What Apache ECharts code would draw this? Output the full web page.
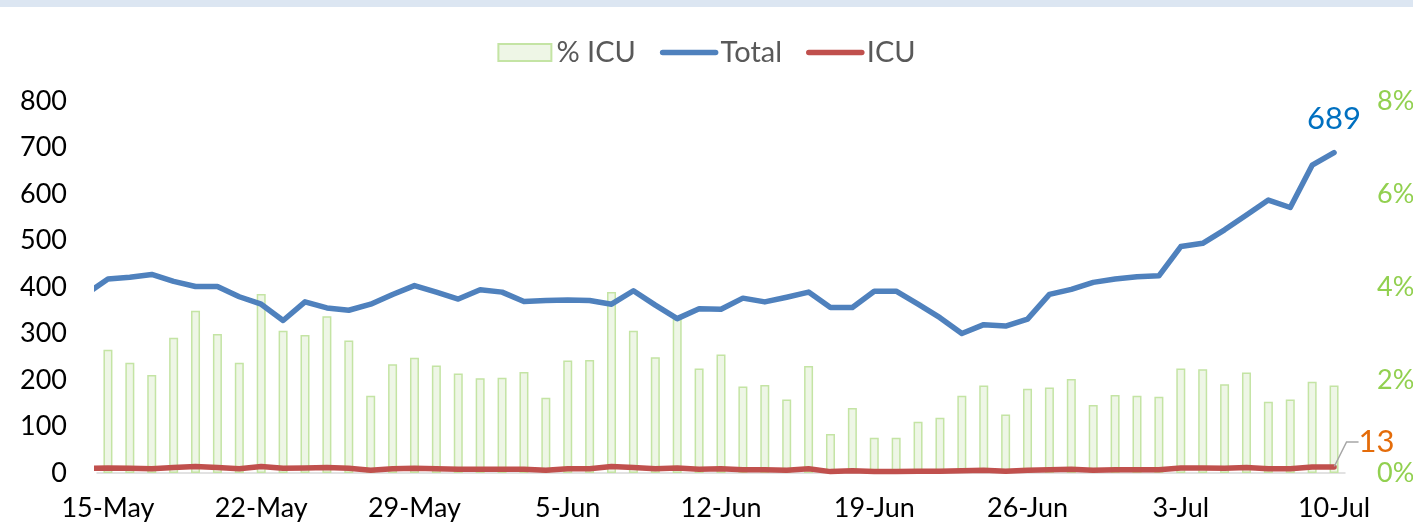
<!DOCTYPE html>
<html>
<head>
<meta charset="utf-8">
<script src="https://cdn.jsdelivr.net/npm/echarts@6/dist/echarts.min.js"></script>
<style>
  html, body { margin: 0; padding: 0; background: #fff; }
  #chart { width: 1413px; height: 525px; }
</style>
</head>
<body>
<div id="chart"></div>
<script>
// first entry (14-May) sits just left of the plot, only its line segment shows
var dates = ['14-May', '15-May', '16-May', '17-May', '18-May', '19-May', '20-May', '21-May', '22-May', '23-May',
    '24-May', '25-May', '26-May', '27-May', '28-May', '29-May', '30-May', '31-May',
    '1-Jun', '2-Jun', '3-Jun', '4-Jun', '5-Jun', '6-Jun', '7-Jun', '8-Jun', '9-Jun', '10-Jun',
    '11-Jun', '12-Jun', '13-Jun', '14-Jun', '15-Jun', '16-Jun', '17-Jun', '18-Jun', '19-Jun', '20-Jun',
    '21-Jun', '22-Jun', '23-Jun', '24-Jun', '25-Jun', '26-Jun', '27-Jun', '28-Jun', '29-Jun', '30-Jun',
    '1-Jul', '2-Jul', '3-Jul', '4-Jul', '5-Jul', '6-Jul', '7-Jul', '8-Jul', '9-Jul', '10-Jul'];

var total = [385, 417, 421, 427, 412, 401, 401, 379, 363, 328, 368, 355, 350, 363, 384, 403, 389, 374,
    394, 389, 369, 371, 372, 371, 363, 392, 361, 332, 353, 352, 376, 368, 378, 389, 356, 356, 391, 391,
    363, 334, 300, 319, 316, 331, 384, 395, 410, 417,
    422, 424, 487, 494, 523, 555, 587, 571, 662, 689];

var icu = [10, 11, 10, 9, 12, 14, 12, 9, 14, 10, 11, 12, 10, 6, 9, 10, 9, 8,
    8, 8, 8, 6, 9, 9, 14, 12, 9, 11, 8, 9, 7, 7, 6, 9, 3, 5, 3, 3,
    4, 4, 5, 6, 4, 6, 7, 8, 6, 7,
    7, 7, 11, 11, 10, 12, 9, 9, 13, 13];

var pctIcu = [null, 2.65, 2.37, 2.11, 2.91, 3.49, 2.99, 2.37, 3.85, 3.06, 2.97, 3.37, 2.85, 1.66, 2.34, 2.48, 2.31, 2.14,
    2.04, 2.05, 2.17, 1.62, 2.42, 2.43, 3.89, 3.06, 2.49, 3.31, 2.25, 2.55, 1.86, 1.89, 1.58, 2.30, 0.84, 1.40, 0.76, 0.76,
    1.10, 1.19, 1.66, 1.88, 1.26, 1.81, 1.84, 2.02, 1.46, 1.68,
    1.66, 1.64, 2.25, 2.23, 1.91, 2.16, 1.53, 1.58, 1.96, 1.88];

var font = 'Lato, "Open Sans", sans-serif';
var last = dates.length - 1;

// only the final point carries a (tiny, hidden in the line) symbol and a label
function withLastLabel(values, label) {
    return values.map(function (v, i) {
        if (i !== last) return v;
        return {value: v, symbol: 'circle', symbolSize: 1, label: label};
    });
}

var legendLine = {width: 5.5, cap: 'round'};

var chart = echarts.init(document.getElementById('chart'));
chart.setOption({
    animation: false,
    textStyle: {fontFamily: font},
    graphic: [{
        type: 'rect',
        left: 0, top: 0,
        shape: {width: 1413, height: 7},
        style: {fill: '#DCE6F2'}
    }],
    legend: {
        top: 33,
        left: 'center',
        itemWidth: 53,
        itemHeight: 17,
        itemGap: 24,
        textStyle: {fontSize: 29, color: '#595959', fontFamily: font},
        data: [
            {name: '% ICU', icon: 'rect'},
            {name: 'Total', itemStyle: {opacity: 0}, lineStyle: legendLine},
            {name: 'ICU', itemStyle: {opacity: 0}, lineStyle: legendLine}
        ]
    },
    grid: {left: 97, right: 68, top: 101, bottom: 52, containLabel: false, outerBoundsMode: 'none'},
    xAxis: {
        type: 'category',
        data: dates,
        min: 1,
        max: last,
        boundaryGap: true,
        axisLine: {lineStyle: {color: '#D9D9D9', width: 1.5}},
        axisTick: {show: false},
        axisLabel: {
            interval: function (index) { return (index - 1) % 7 === 0; },
            fontSize: 27,
            color: '#000',
            margin: 22,
            fontFamily: font
        },
        splitLine: {show: false}
    },
    yAxis: [
        {
            type: 'value',
            min: 0, max: 800, interval: 100,
            axisLine: {show: false},
            axisTick: {show: false},
            splitLine: {show: false},
            axisLabel: {fontSize: 27, color: '#000', margin: 30, fontFamily: font}
        },
        {
            type: 'value',
            min: 0, max: 8, interval: 2,
            axisLine: {show: false},
            axisTick: {show: false},
            splitLine: {show: false},
            axisLabel: {fontSize: 27, color: '#92D050', margin: 32, formatter: '{value}%', fontFamily: font}
        }
    ],
    series: [
        {
            name: '% ICU',
            type: 'bar',
            yAxisIndex: 1,
            barWidth: 9,
            itemStyle: {color: '#EEF6E6', borderColor: '#C4E4A4', borderWidth: 1.5},
            data: pctIcu
        },
        {
            name: 'Total',
            type: 'line',
            color: '#4F81BD',
            symbol: 'none',
            showSymbol: true,
            showAllSymbol: true,
            lineStyle: {width: 5.5, color: '#4F81BD', cap: 'round', join: 'round'},
            data: withLastLabel(total, {
                show: true, position: 'top', distance: 18,
                fontSize: 31, color: '#0070C0', fontFamily: font
            })
        },
        {
            name: 'ICU',
            type: 'line',
            color: '#C0504D',
            symbol: 'none',
            showSymbol: true,
            showAllSymbol: true,
            lineStyle: {width: 5.5, color: '#C0504D', cap: 'round', join: 'round'},
            labelLine: {show: true, length2: 12, minTurnAngle: 0, lineStyle: {color: '#A6A6A6', width: 1.5}},
            labelLayout: function (params) {
                if (params.dataIndex !== last) return {};
                return {dx: 13, dy: -25};
            },
            data: withLastLabel(icu, {
                show: true, position: 'right', distance: 0, padding: [0, 0, 0, 11],
                fontSize: 31, color: '#E46C0A', fontFamily: font
            })
        }
    ]
});
</script>
</body>
</html>
